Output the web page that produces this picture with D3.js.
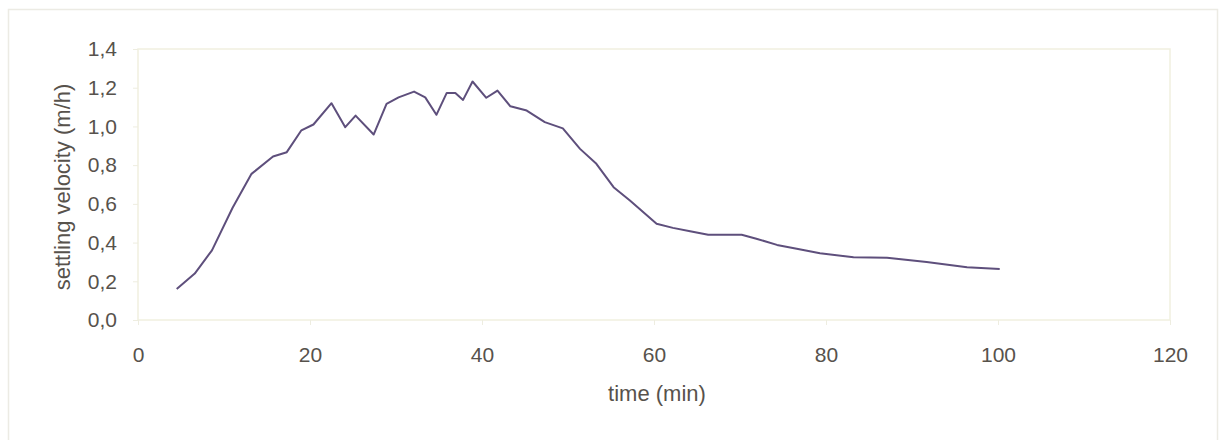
<!DOCTYPE html>
<html>
<head>
	<meta charset="utf-8">
	<title></title>
	<style>
		body { margin: 0; background: #fff; }
		text { font-family: "Liberation Sans", Arial, sans-serif; fill: #57524c; }
	</style>
</head>
<body>
	<svg id="container" width="1223" height="440">
		<g id="body"></g>
	</svg>
</body>
<script src="https://d3js.org/d3.v7.min.js"></script>
<script>
	// time (min) vs settling velocity (m/h)
	let times = [4.5, 6.6, 8.6, 11.0, 13.2, 15.7, 17.3, 19.0, 20.4, 22.5, 24.1, 25.3, 27.4,
		28.9, 30.3, 32.1, 33.4, 34.7, 35.9, 36.9, 37.8, 38.9, 40.5, 41.8, 43.3, 45.2,
		47.3, 49.4, 51.4, 53.3, 55.3, 57.2, 60.3, 62.2, 64.2, 66.3, 70.2, 71.9, 74.3,
		76.6, 79.3, 83.2, 87.1, 91.7, 96.4, 100.2]
	let velocity = [0.16, 0.24, 0.36, 0.58, 0.755, 0.845, 0.867, 0.98, 1.01, 1.12, 0.996, 1.056, 0.958,
		1.117, 1.15, 1.18, 1.15, 1.06, 1.173, 1.173, 1.137, 1.232, 1.148, 1.185, 1.104, 1.082,
		1.022, 0.99, 0.884, 0.807, 0.686, 0.617, 0.497, 0.476, 0.459, 0.44, 0.44, 0.42, 0.388,
		0.368, 0.345, 0.324, 0.322, 0.30, 0.273, 0.264]
	let xTicks = [0, 20, 40, 60, 80, 100, 120]
	let yTicks = [0, 0.2, 0.4, 0.6, 0.8, 1.0, 1.2, 1.4]

	let svg = d3.select("#container")
	let body = d3.select("#body")

	// outer chart frame
	svg.insert("rect", "#body")
		.attr("x", 8.5).attr("y", 9.5)
		.attr("width", 1209).attr("height", 440)
		.attr("fill", "none")
		.attr("stroke", "#ecebe4")
		.attr("stroke-width", 1.5)

	let plotLeft = 138, plotRight = 1170, plotTop = 49, plotBottom = 320

	let x = d3.scaleLinear().domain([0, 120]).range([plotLeft, plotRight])
	let y = d3.scaleLinear().domain([0, 1.4]).range([plotBottom, plotTop])

	// plot area border
	body.append("rect")
		.attr("x", plotLeft).attr("y", plotTop)
		.attr("width", plotRight - plotLeft).attr("height", plotBottom - plotTop)
		.attr("fill", "none")
		.attr("stroke", "#f1f0df")
		.attr("stroke-width", 1.5)

	let fmt = d => d3.format(".1f")(d).replace(".", ",")

	let yAxis = body.append("g")
		.attr("transform", `translate(${plotLeft},0)`)
		.call(d3.axisLeft(y).tickValues(yTicks).tickFormat(fmt).tickSize(5).tickPadding(16))
	yAxis.select(".domain").remove()
	yAxis.selectAll("line").attr("stroke", "#eeede0")
	yAxis.selectAll("text").attr("font-size", 21).attr("fill", "#57524c")

	let xAxis = body.append("g")
		.attr("transform", `translate(0,${plotBottom})`)
		.call(d3.axisBottom(x).tickValues(xTicks).tickFormat(d3.format("d")).tickSize(5).tickPadding(22))
	xAxis.select(".domain").remove()
	xAxis.selectAll("line").attr("stroke", "#eeede0")
	xAxis.selectAll("text").attr("font-size", 21).attr("fill", "#57524c")

	let points = times.map((t, i) => [t, velocity[i]])

	let line = d3.line()
		.x(d => x(d[0]))
		.y(d => y(d[1]))

	body.append("path")
		.datum(points)
		.attr("d", line)
		.attr("fill", "none")
		.attr("stroke", "#5e4f7c")
		.attr("stroke-width", 2)
		.attr("stroke-linejoin", "round")

	body.append("text")
		.attr("x", 657).attr("y", 401)
		.attr("text-anchor", "middle")
		.attr("font-size", 22)
		.text("time (min)")

	body.append("text")
		.attr("transform", "translate(70,187) rotate(-90)")
		.attr("text-anchor", "middle")
		.attr("font-size", 22)
		.text("settling velocity (m/h)")
</script>
</html>
